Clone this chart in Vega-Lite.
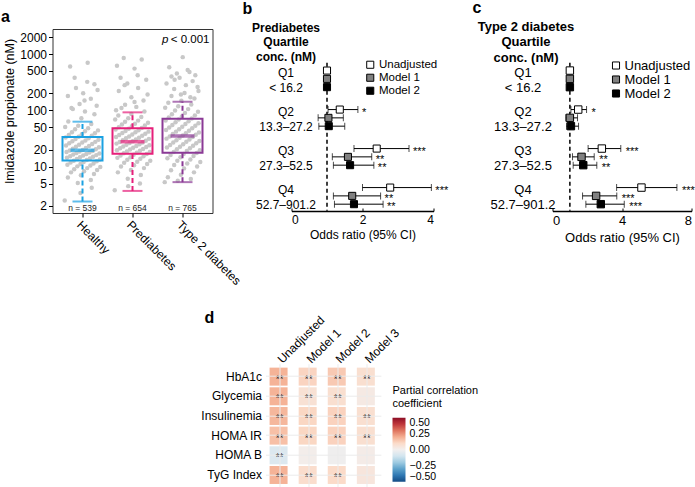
{
"$schema": "https://vega.github.io/schema/vega-lite/v6.json",
"padding": {"left": 0.5, "top": 0, "right": 0, "bottom": 0},
"config": {
  "font": "Liberation Sans",
  "view": {"stroke": null},
  "axis": {"labelColor": "#000", "titleColor": "#000", "tickColor": "#000", "domainColor": "#000", "grid": false, "labelFontSize": 12, "titleFontSize": 12, "titleFontWeight": "normal"},
  "title": {"fontSize": 16, "fontWeight": "bold", "anchor": "start", "frame": "group", "color": "#000"},
  "legend": {"labelColor": "#000", "titleColor": "#000"}
},
"datasets": {
  "pts": [
    {"g":"H","v":2.5,"i":0},{"g":"H","v":5.1,"i":29},{"g":"H","v":5.8,"i":58},{"g":"H","v":6.4,"i":7},{"g":"H","v":7,"i":36},{"g":"H","v":7.4,"i":65},{"g":"H","v":7.9,"i":14},{"g":"H","v":8.3,"i":43},{"g":"H","v":8.7,"i":72},{"g":"H","v":9,"i":21},
    {"g":"H","v":9.4,"i":50},{"g":"H","v":9.8,"i":79},{"g":"H","v":10.1,"i":28},{"g":"H","v":10.5,"i":57},{"g":"H","v":10.8,"i":6},{"g":"H","v":11.1,"i":35},{"g":"H","v":11.4,"i":64},{"g":"H","v":11.8,"i":13},{"g":"H","v":12.1,"i":42},{"g":"H","v":12.4,"i":71},
    {"g":"H","v":12.7,"i":20},{"g":"H","v":13.1,"i":49},{"g":"H","v":13.4,"i":78},{"g":"H","v":13.7,"i":27},{"g":"H","v":14,"i":56},{"g":"H","v":14.4,"i":5},{"g":"H","v":14.7,"i":34},{"g":"H","v":15,"i":63},{"g":"H","v":15.3,"i":12},{"g":"H","v":15.7,"i":41},
    {"g":"H","v":16,"i":70},{"g":"H","v":16.4,"i":19},{"g":"H","v":16.7,"i":48},{"g":"H","v":17.1,"i":77},{"g":"H","v":17.4,"i":26},{"g":"H","v":17.8,"i":55},{"g":"H","v":18.2,"i":4},{"g":"H","v":18.5,"i":33},{"g":"H","v":18.9,"i":62},{"g":"H","v":19.3,"i":11},
    {"g":"H","v":19.8,"i":40},{"g":"H","v":20.3,"i":69},{"g":"H","v":20.8,"i":18},{"g":"H","v":21.4,"i":47},{"g":"H","v":22,"i":76},{"g":"H","v":22.6,"i":25},{"g":"H","v":23.2,"i":54},{"g":"H","v":23.8,"i":3},{"g":"H","v":24.5,"i":32},{"g":"H","v":25.2,"i":61},
    {"g":"H","v":25.9,"i":10},{"g":"H","v":26.7,"i":39},{"g":"H","v":27.5,"i":68},{"g":"H","v":28.3,"i":17},{"g":"H","v":29.1,"i":46},{"g":"H","v":30,"i":75},{"g":"H","v":30.9,"i":24},{"g":"H","v":31.9,"i":53},{"g":"H","v":33,"i":2},{"g":"H","v":34,"i":31},
    {"g":"H","v":35.2,"i":60},{"g":"H","v":36.4,"i":9},{"g":"H","v":37.7,"i":38},{"g":"H","v":39.1,"i":67},{"g":"H","v":40.7,"i":16},{"g":"H","v":42.3,"i":45},{"g":"H","v":44,"i":74},{"g":"H","v":46,"i":23},{"g":"H","v":48.2,"i":52},{"g":"H","v":50.6,"i":1},
    {"g":"H","v":53.3,"i":30},{"g":"H","v":57,"i":59},{"g":"H","v":63,"i":8},{"g":"H","v":72,"i":37},{"g":"H","v":85,"i":66},{"g":"H","v":110,"i":15},{"g":"H","v":150,"i":44},{"g":"H","v":230,"i":73},{"g":"H","v":380,"i":22},{"g":"H","v":700,"i":51},
    {"g":"H","v":600,"i":12},{"g":"H","v":320,"i":50},{"g":"H","v":290,"i":66},{"g":"H","v":250,"i":25},{"g":"H","v":200,"i":41},{"g":"H","v":180,"i":7},{"g":"H","v":160,"i":58},{"g":"H","v":130,"i":33},{"g":"H","v":120,"i":71},{"g":"H","v":105,"i":18},{"g":"H","v":95,"i":45},{"g":"H","v":4.2,"i":60},{"g":"H","v":3.4,"i":35},
    {"g":"P","v":3.8,"i":0},{"g":"P","v":6.1,"i":29},{"g":"P","v":7.1,"i":58},{"g":"P","v":7.9,"i":7},{"g":"P","v":8.7,"i":36},{"g":"P","v":9.4,"i":65},{"g":"P","v":10,"i":14},{"g":"P","v":10.6,"i":43},{"g":"P","v":11.1,"i":72},{"g":"P","v":11.7,"i":21},
    {"g":"P","v":12.2,"i":50},{"g":"P","v":12.7,"i":79},{"g":"P","v":13.2,"i":28},{"g":"P","v":13.8,"i":57},{"g":"P","v":14.3,"i":6},{"g":"P","v":14.7,"i":35},{"g":"P","v":15.2,"i":64},{"g":"P","v":15.7,"i":13},{"g":"P","v":16.2,"i":42},{"g":"P","v":16.7,"i":71},
    {"g":"P","v":17.2,"i":20},{"g":"P","v":17.6,"i":49},{"g":"P","v":18.1,"i":78},{"g":"P","v":18.6,"i":27},{"g":"P","v":19.1,"i":56},{"g":"P","v":19.6,"i":5},{"g":"P","v":20.1,"i":34},{"g":"P","v":20.6,"i":63},{"g":"P","v":21.2,"i":12},{"g":"P","v":21.7,"i":41},
    {"g":"P","v":22.2,"i":70},{"g":"P","v":22.8,"i":19},{"g":"P","v":23.3,"i":48},{"g":"P","v":23.9,"i":77},{"g":"P","v":24.4,"i":26},{"g":"P","v":25,"i":55},{"g":"P","v":25.6,"i":4},{"g":"P","v":26.2,"i":33},{"g":"P","v":26.8,"i":62},{"g":"P","v":27.4,"i":11},
    {"g":"P","v":28.1,"i":40},{"g":"P","v":28.8,"i":69},{"g":"P","v":29.5,"i":18},{"g":"P","v":30.3,"i":47},{"g":"P","v":31.1,"i":76},{"g":"P","v":31.9,"i":25},{"g":"P","v":32.7,"i":54},{"g":"P","v":33.5,"i":3},{"g":"P","v":34.4,"i":32},{"g":"P","v":35.4,"i":61},
    {"g":"P","v":36.3,"i":10},{"g":"P","v":37.3,"i":39},{"g":"P","v":38.4,"i":68},{"g":"P","v":39.5,"i":17},{"g":"P","v":40.6,"i":46},{"g":"P","v":41.8,"i":75},{"g":"P","v":43,"i":24},{"g":"P","v":44.3,"i":53},{"g":"P","v":45.6,"i":2},{"g":"P","v":47.1,"i":31},
    {"g":"P","v":48.6,"i":60},{"g":"P","v":50.2,"i":9},{"g":"P","v":51.9,"i":38},{"g":"P","v":53.8,"i":67},{"g":"P","v":55.8,"i":16},{"g":"P","v":57.9,"i":45},{"g":"P","v":60.2,"i":74},{"g":"P","v":62.8,"i":23},{"g":"P","v":65.6,"i":52},{"g":"P","v":68.7,"i":1},
    {"g":"P","v":72.2,"i":30},{"g":"P","v":76,"i":59},{"g":"P","v":81,"i":8},{"g":"P","v":86,"i":37},{"g":"P","v":95,"i":66},{"g":"P","v":110,"i":15},{"g":"P","v":140,"i":44},{"g":"P","v":190,"i":73},{"g":"P","v":280,"i":22},{"g":"P","v":420,"i":51},
    {"g":"P","v":850,"i":20},{"g":"P","v":800,"i":60},{"g":"P","v":620,"i":5},{"g":"P","v":550,"i":44},{"g":"P","v":380,"i":13},{"g":"P","v":350,"i":70},{"g":"P","v":300,"i":28},{"g":"P","v":250,"i":52},{"g":"P","v":220,"i":9},{"g":"P","v":170,"i":37},{"g":"P","v":150,"i":64},{"g":"P","v":125,"i":23},{"g":"P","v":115,"i":48},{"g":"P","v":100,"i":3},{"g":"P","v":5,"i":56},{"g":"P","v":4.5,"i":30},
    {"g":"T","v":5.3,"i":0},{"g":"T","v":5.6,"i":29},{"g":"T","v":6,"i":58},{"g":"T","v":6.5,"i":7},{"g":"T","v":7.2,"i":36},{"g":"T","v":7.9,"i":65},{"g":"T","v":8.6,"i":14},{"g":"T","v":9.3,"i":43},{"g":"T","v":10,"i":72},{"g":"T","v":10.7,"i":21},
    {"g":"T","v":11.4,"i":50},{"g":"T","v":12.1,"i":79},{"g":"T","v":12.7,"i":28},{"g":"T","v":13.4,"i":57},{"g":"T","v":14.1,"i":6},{"g":"T","v":14.7,"i":35},{"g":"T","v":15.4,"i":64},{"g":"T","v":16.1,"i":13},{"g":"T","v":16.8,"i":42},{"g":"T","v":17.5,"i":71},
    {"g":"T","v":18.2,"i":20},{"g":"T","v":18.9,"i":49},{"g":"T","v":19.6,"i":78},{"g":"T","v":20.3,"i":27},{"g":"T","v":21.1,"i":56},{"g":"T","v":21.8,"i":5},{"g":"T","v":22.6,"i":34},{"g":"T","v":23.4,"i":63},{"g":"T","v":24.2,"i":12},{"g":"T","v":25,"i":41},
    {"g":"T","v":25.9,"i":70},{"g":"T","v":26.7,"i":19},{"g":"T","v":27.6,"i":48},{"g":"T","v":28.5,"i":77},{"g":"T","v":29.4,"i":26},{"g":"T","v":30.4,"i":55},{"g":"T","v":31.4,"i":4},{"g":"T","v":32.4,"i":33},{"g":"T","v":33.4,"i":62},{"g":"T","v":34.4,"i":11},
    {"g":"T","v":35.6,"i":40},{"g":"T","v":36.8,"i":69},{"g":"T","v":37.9,"i":18},{"g":"T","v":39.2,"i":47},{"g":"T","v":40.5,"i":76},{"g":"T","v":41.8,"i":25},{"g":"T","v":43.2,"i":54},{"g":"T","v":44.7,"i":3},{"g":"T","v":46.2,"i":32},{"g":"T","v":47.8,"i":61},
    {"g":"T","v":49.4,"i":10},{"g":"T","v":51.2,"i":39},{"g":"T","v":53,"i":68},{"g":"T","v":54.9,"i":17},{"g":"T","v":56.9,"i":46},{"g":"T","v":59,"i":75},{"g":"T","v":61.3,"i":24},{"g":"T","v":63.6,"i":53},{"g":"T","v":66.1,"i":2},{"g":"T","v":68.7,"i":31},
    {"g":"T","v":71.6,"i":60},{"g":"T","v":74.6,"i":9},{"g":"T","v":77.8,"i":38},{"g":"T","v":81.3,"i":67},{"g":"T","v":85.3,"i":16},{"g":"T","v":89.4,"i":45},{"g":"T","v":93.9,"i":74},{"g":"T","v":99,"i":23},{"g":"T","v":105,"i":52},{"g":"T","v":111,"i":1},
    {"g":"T","v":118,"i":30},{"g":"T","v":127,"i":59},{"g":"T","v":136,"i":8},{"g":"T","v":148,"i":37},{"g":"T","v":162,"i":66},{"g":"T","v":179,"i":15},{"g":"T","v":203,"i":44},{"g":"T","v":260,"i":73},{"g":"T","v":350,"i":22},{"g":"T","v":520,"i":51},
    {"g":"T","v":880,"i":40},{"g":"T","v":580,"i":10},{"g":"T","v":480,"i":55},{"g":"T","v":450,"i":27},{"g":"T","v":420,"i":68},{"g":"T","v":400,"i":15},{"g":"T","v":380,"i":33},{"g":"T","v":330,"i":62},{"g":"T","v":300,"i":4},{"g":"T","v":280,"i":47},{"g":"T","v":240,"i":21},{"g":"T","v":220,"i":75},{"g":"T","v":190,"i":36},{"g":"T","v":170,"i":57}
  ],
  "box": [
    {"g":"H","lo":2.4,"q1":12.9,"med":19.5,"q3":33.6,"hi":62.8,"nl":"n = 539"},
    {"g":"P","lo":3.7,"q1":16.9,"med":27.7,"q3":47.9,"hi":92,"nl":"n = 654"},
    {"g":"T","lo":5.3,"q1":17.7,"med":35,"q3":71,"hi":142,"nl":"n = 765"}
  ],
  "orb": [
    {"q":"Q1|< 16.2","m":"Unadjusted","or":1,"lo":1,"hi":1,"s":""},
    {"q":"Q1|< 16.2","m":"Model 1","or":1,"lo":1,"hi":1,"s":""},
    {"q":"Q1|< 16.2","m":"Model 2","or":1,"lo":1,"hi":1,"s":""},
    {"q":"Q2|13.3–27.2","m":"Unadjusted","or":1.36,"lo":1.03,"hi":1.87,"s":"*"},
    {"q":"Q2|13.3–27.2","m":"Model 1","or":1.04,"lo":0.75,"hi":1.46,"s":""},
    {"q":"Q2|13.3–27.2","m":"Model 2","or":1.05,"lo":0.77,"hi":1.5,"s":""},
    {"q":"Q3|27.3–52.5","m":"Unadjusted","or":2.4,"lo":1.76,"hi":3.31,"s":"***"},
    {"q":"Q3|27.3–52.5","m":"Model 1","or":1.59,"lo":1.15,"hi":2.26,"s":"**"},
    {"q":"Q3|27.3–52.5","m":"Model 2","or":1.65,"lo":1.18,"hi":2.32,"s":"**"},
    {"q":"Q4|52.7–901.2","m":"Unadjusted","or":2.78,"lo":2.0,"hi":3.94,"s":"***"},
    {"q":"Q4|52.7–901.2","m":"Model 1","or":1.71,"lo":1.18,"hi":2.51,"s":"**"},
    {"q":"Q4|52.7–901.2","m":"Model 2","or":1.76,"lo":1.21,"hi":2.58,"s":"**"}
  ],
  "orc": [
    {"q":"Q1|< 16.2","m":"Unadjusted","or":1,"lo":1,"hi":1,"s":""},
    {"q":"Q1|< 16.2","m":"Model 1","or":1,"lo":1,"hi":1,"s":""},
    {"q":"Q1|< 16.2","m":"Model 2","or":1,"lo":1,"hi":1,"s":""},
    {"q":"Q2|13.3–27.2","m":"Unadjusted","or":1.48,"lo":1.06,"hi":1.96,"s":"*"},
    {"q":"Q2|13.3–27.2","m":"Model 1","or":1.0,"lo":0.77,"hi":1.44,"s":""},
    {"q":"Q2|13.3–27.2","m":"Model 2","or":1.06,"lo":0.81,"hi":1.5,"s":""},
    {"q":"Q3|27.3–52.5","m":"Unadjusted","or":2.84,"lo":2.05,"hi":3.93,"s":"***"},
    {"q":"Q3|27.3–52.5","m":"Model 1","or":1.67,"lo":1.15,"hi":2.4,"s":"**"},
    {"q":"Q3|27.3–52.5","m":"Model 2","or":1.77,"lo":1.19,"hi":2.55,"s":"**"},
    {"q":"Q4|52.7–901.2","m":"Unadjusted","or":5.12,"lo":3.69,"hi":7.16,"s":"***"},
    {"q":"Q4|52.7–901.2","m":"Model 1","or":2.51,"lo":1.73,"hi":3.7,"s":"***"},
    {"q":"Q4|52.7–901.2","m":"Model 2","or":2.78,"lo":1.92,"hi":4.13,"s":"***"}
  ],
  "hm": [
    {"v":"HbA1c","m":"Unadjusted","r":0.19,"s":"**"},{"v":"HbA1c","m":"Model 1","r":0.115,"s":"**"},{"v":"HbA1c","m":"Model 2","r":0.14,"s":"**"},{"v":"HbA1c","m":"Model 3","r":0.08,"s":"**"},
    {"v":"Glycemia","m":"Unadjusted","r":0.19,"s":"**"},{"v":"Glycemia","m":"Model 1","r":0.07,"s":"**"},{"v":"Glycemia","m":"Model 2","r":0.08,"s":"**"},{"v":"Glycemia","m":"Model 3","r":0.03,"s":""},
    {"v":"Insulinemia","m":"Unadjusted","r":0.18,"s":"**"},{"v":"Insulinemia","m":"Model 1","r":0.11,"s":"**"},{"v":"Insulinemia","m":"Model 2","r":0.12,"s":"**"},{"v":"Insulinemia","m":"Model 3","r":0.08,"s":"**"},
    {"v":"HOMA IR","m":"Unadjusted","r":0.16,"s":"**"},{"v":"HOMA IR","m":"Model 1","r":0.11,"s":"**"},{"v":"HOMA IR","m":"Model 2","r":0.12,"s":"**"},{"v":"HOMA IR","m":"Model 3","r":0.08,"s":"**"},
    {"v":"HOMA B","m":"Unadjusted","r":-0.07,"s":"**"},{"v":"HOMA B","m":"Model 1","r":0.01,"s":""},{"v":"HOMA B","m":"Model 2","r":-0.01,"s":""},{"v":"HOMA B","m":"Model 3","r":0.02,"s":""},
    {"v":"TyG Index","m":"Unadjusted","r":0.19,"s":"**"},{"v":"TyG Index","m":"Model 1","r":0.09,"s":"**"},{"v":"TyG Index","m":"Model 2","r":0.1,"s":"**"},{"v":"TyG Index","m":"Model 3","r":0.05,"s":""}
  ]
},
"bounds": "flush",
"spacing": 334.7,
"resolve": {"scale": {"fill": "independent", "color": "independent", "stroke": "independent"}, "legend": {"fill": "independent", "color": "independent"}},
"vconcat": [
 {
  "bounds": "flush",
  "spacing": 0,
  "resolve": {"scale": {"fill": "independent", "color": "independent", "stroke": "independent"}, "legend": {"fill": "independent", "color": "independent"}},
  "hconcat": [
  {
    "width": 160, "height": 184,
    "view": {"stroke": "#333", "strokeWidth": 1},
    "title": {"text": "a", "dx": -51.5},
    "resolve": {"scale": {"x": "independent"}, "axis": {"x": "independent"}},
    "layer": [
      {
        "data": {"name": "pts"},
        "mark": {"type": "circle", "size": 20, "color": "#c8c8c8", "opacity": 1},
        "encoding": {
          "x": {"field": "g", "type": "nominal", "scale": {"domain": ["H","P","T"], "paddingInner": 0, "paddingOuter": 0.1}, "axis": null},
          "xOffset": {"field": "i", "type": "nominal", "scale": {"range": [7, 43]}},
          "y": {"field": "v", "type": "quantitative", "scale": {"type": "log", "domain": [1.5, 2780], "nice": false},
                "axis": {"title": "Imidazole propionate (nM)", "titleFontSize": 12.5, "titlePadding": 3, "titleY": 82, "domain": false, "values": [2,5,10,20,50,100,200,500,1000,2000], "format": "d", "tickSize": 4, "labelPadding": 2, "labelFontSize": 12}}
        }
      },
      {
        "layer": [
          {
            "data": {"name": "box"},
            "mark": {"type": "rule", "strokeDash": [5, 3], "strokeWidth": 2},
            "encoding": {
              "x": {"field": "g", "type": "nominal", "scale": {"domain": ["H","P","T"], "paddingInner": 0, "paddingOuter": 0.1},
                    "axis": {"title": null, "domain": false, "labelAngle": 45, "labelAlign": "left", "labelBaseline": "top", "labelPadding": 2, "tickSize": 4, "labelFontSize": 12,
                             "labelExpr": "datum.label == 'H' ? 'Healthy' : datum.label == 'P' ? 'Prediabetes' : 'Type 2 diabetes'"}},
              "y": {"field": "q3", "type": "quantitative"},
              "y2": {"field": "hi"},
              "stroke": {"field": "g", "type": "nominal", "scale": {"domain": ["H","P","T"], "range": ["#1BA1E2","#E6207A","#8B3A96"]}, "legend": null}
            }
          },
          {
            "data": {"name": "box"},
            "mark": {"type": "rule", "strokeDash": [5, 3], "strokeWidth": 2},
            "encoding": {
              "x": {"field": "g", "type": "nominal"},
              "y": {"field": "lo", "type": "quantitative"},
              "y2": {"field": "q1"},
              "stroke": {"field": "g", "type": "nominal", "legend": null}
            }
          },
          {
            "data": {"name": "box"},
            "mark": {"type": "tick", "size": 20, "thickness": 2},
            "encoding": {
              "x": {"field": "g", "type": "nominal"},
              "y": {"field": "hi", "type": "quantitative"},
              "color": {"field": "g", "type": "nominal", "scale": {"domain": ["H","P","T"], "range": ["#1BA1E2","#E6207A","#8B3A96"]}, "legend": null}
            }
          },
          {
            "data": {"name": "box"},
            "mark": {"type": "tick", "size": 20, "thickness": 2},
            "encoding": {
              "x": {"field": "g", "type": "nominal"},
              "y": {"field": "lo", "type": "quantitative"},
              "color": {"field": "g", "type": "nominal", "legend": null}
            }
          },
          {
            "data": {"name": "box"},
            "mark": {"type": "bar", "width": 40, "fill": "transparent", "strokeWidth": 2},
            "encoding": {
              "x": {"field": "g", "type": "nominal"},
              "y": {"field": "q1", "type": "quantitative"},
              "y2": {"field": "q3"},
              "stroke": {"field": "g", "type": "nominal", "legend": null}
            }
          },
          {
            "data": {"name": "box"},
            "mark": {"type": "tick", "size": 24, "thickness": 3.5},
            "encoding": {
              "x": {"field": "g", "type": "nominal"},
              "y": {"field": "med", "type": "quantitative"},
              "color": {"field": "g", "type": "nominal", "legend": null}
            }
          },
          {
            "data": {"name": "box"},
            "mark": {"type": "text", "fontSize": 8.5, "color": "#222", "baseline": "middle"},
            "encoding": {
              "x": {"field": "g", "type": "nominal"},
              "y": {"datum": 1.84},
              "text": {"field": "nl"}
            }
          },
          {
            "data": {"values": [{"t": "< 0.001"}]},
            "mark": {"type": "text", "fontSize": 11.5, "align": "right", "baseline": "middle", "dx": 27},
            "encoding": {
              "x": {"datum": "T"},
              "y": {"datum": 1770},
              "text": {"field": "t"}
            }
          },
          {
            "data": {"values": [{"t": "p"}]},
            "mark": {"type": "text", "fontSize": 11.5, "fontStyle": "italic", "align": "right", "baseline": "middle", "dx": -14},
            "encoding": {
              "x": {"datum": "T"},
              "y": {"datum": 1770},
              "text": {"field": "t"}
            }
          }
        ]
      }
    ]
  },
  {"width": 79, "height": 1, "data": {"values": [{}]}, "mark": {"type": "point", "opacity": 0}},
  {
    "width": 142, "height": 187,
    "title": {"text": "b", "dx": -49},
    "layer": [
      {
        "data": {"name": "orb"},
        "mark": {"type": "rule", "strokeWidth": 1, "color": "#000"},
        "encoding": {
          "x": {"field": "lo", "type": "quantitative", "scale": {"domain": [0, 4], "nice": false},
                "axis": {"title": "Odds ratio (95% CI)", "values": [0,0.5,1,1.5,2,2.5,3,3.5,4], "labelExpr": "datum.value % 1 == 0 ? format(datum.value, 'd') : ''", "labelOverlap": false, "tickSize": -3, "offset": -5, "domainWidth": 1.5, "labelPadding": 6, "labelFontSize": 12, "titleFontSize": 12, "titlePadding": 4}},
          "x2": {"field": "hi"},
          "y": {"field": "q", "type": "nominal", "scale": {"paddingInner": 0, "paddingOuter": 0.397, "align": 0.98},
                "axis": {"title": ["Prediabetes", "Quartile", "conc. (nM)"], "titleAngle": 0, "titleAlign": "center", "titleBaseline": "top", "titleX": -6, "titleY": -7, "titleFontWeight": "bold", "titleFontSize": 12, "titleLineHeight": 14.5,
                         "labelExpr": "split(datum.label, '|')", "labelAlign": "center", "labelBaseline": "middle", "labelPadding": 6, "labelOffset": -6, "labelLineHeight": 15, "labelFontSize": 12, "ticks": false, "domain": false}},
          "yOffset": {"field": "m", "type": "nominal", "sort": ["Unadjusted", "Model 1", "Model 2"], "scale": {"paddingInner": 0, "paddingOuter": 0.85}}
        }
      },
      {
        "data": {"values": [{}]},
        "mark": {"type": "rule", "strokeDash": [4, 3], "strokeWidth": 1.5, "color": "#000"},
        "encoding": {
          "x": {"datum": 1},
          "y": {"datum": "Q1|< 16.2", "bandPosition": 0.09},
          "y2": {"datum": "Q4|52.7–901.2", "bandPosition": 0.88}
        }
      },
      {
        "data": {"name": "orb"},
        "mark": {"type": "tick", "size": 7, "thickness": 1, "color": "#000"},
        "encoding": {
          "x": {"field": "lo", "type": "quantitative"},
          "y": {"field": "q", "type": "nominal"},
          "yOffset": {"field": "m", "type": "nominal", "sort": ["Unadjusted", "Model 1", "Model 2"]}
        }
      },
      {
        "data": {"name": "orb"},
        "mark": {"type": "tick", "size": 7, "thickness": 1, "color": "#000"},
        "encoding": {
          "x": {"field": "hi", "type": "quantitative"},
          "y": {"field": "q", "type": "nominal"},
          "yOffset": {"field": "m", "type": "nominal", "sort": ["Unadjusted", "Model 1", "Model 2"]}
        }
      },
      {
        "data": {"name": "orb"},
        "mark": {"type": "point", "shape": "square", "filled": true, "size": 50, "stroke": "#000", "strokeWidth": 1, "opacity": 1},
        "encoding": {
          "x": {"field": "or", "type": "quantitative"},
          "y": {"field": "q", "type": "nominal"},
          "yOffset": {"field": "m", "type": "nominal", "sort": ["Unadjusted", "Model 1", "Model 2"]},
          "fill": {"field": "m", "type": "nominal", "scale": {"domain": ["Unadjusted", "Model 1", "Model 2"], "range": ["#ffffff", "#808080", "#000000"]},
                   "legend": {"orient": "none", "legendX": 73, "legendY": 30, "title": null, "symbolType": "square", "symbolSize": 50, "symbolStrokeColor": "#000", "symbolStrokeWidth": 1, "labelFontSize": 11.5, "rowPadding": 0, "labelOffset": 3, "padding": 0}}
        }
      },
      {
        "data": {"name": "orb"},
        "mark": {"type": "text", "fontSize": 11, "align": "left", "baseline": "middle", "dx": 4, "dy": 3},
        "encoding": {
          "x": {"field": "hi", "type": "quantitative"},
          "y": {"field": "q", "type": "nominal"},
          "yOffset": {"field": "m", "type": "nominal", "sort": ["Unadjusted", "Model 1", "Model 2"]},
          "text": {"field": "s"}
        }
      }
    ]
  },
  {"width": 118.7, "height": 1, "data": {"values": [{}]}, "mark": {"type": "point", "opacity": 0}},
  {
    "width": 139, "height": 187,
    "title": {"text": "c", "dx": -80},
    "layer": [
      {
        "data": {"name": "orc"},
        "mark": {"type": "rule", "strokeWidth": 1, "color": "#000"},
        "encoding": {
          "x": {"field": "lo", "type": "quantitative", "scale": {"domain": [0, 8], "nice": false},
                "axis": {"title": "Odds ratio (95% CI)", "values": [0,1,2,3,4,5,6,7,8], "labelExpr": "datum.value % 2 == 0 ? format(datum.value, 'd') : ''", "labelOverlap": false, "tickSize": -3, "offset": -5, "domainWidth": 1.5, "labelPadding": 6, "labelFontSize": 13, "titleFontSize": 13, "titlePadding": 4}},
          "x2": {"field": "hi"},
          "y": {"field": "q", "type": "nominal", "scale": {"paddingInner": 0, "paddingOuter": 0.397, "align": 0.98},
                "axis": {"title": ["Type 2 diabetes", "Quartile", "conc. (nM)"], "titleAngle": 0, "titleAlign": "center", "titleBaseline": "top", "titleX": -27, "titleY": -9, "titleFontWeight": "bold", "titleFontSize": 13, "titleLineHeight": 15.5,
                         "labelExpr": "split(datum.label, '|')", "labelAlign": "center", "labelBaseline": "middle", "labelPadding": 30, "labelOffset": -6, "labelLineHeight": 15, "labelFontSize": 13, "ticks": false, "domain": false}},
          "yOffset": {"field": "m", "type": "nominal", "sort": ["Unadjusted", "Model 1", "Model 2"], "scale": {"paddingInner": 0, "paddingOuter": 0.85}}
        }
      },
      {
        "data": {"values": [{}]},
        "mark": {"type": "rule", "strokeDash": [4, 3], "strokeWidth": 1.5, "color": "#000"},
        "encoding": {
          "x": {"datum": 1},
          "y": {"datum": "Q1|< 16.2", "bandPosition": 0.09},
          "y2": {"datum": "Q4|52.7–901.2", "bandPosition": 0.88}
        }
      },
      {
        "data": {"name": "orc"},
        "mark": {"type": "tick", "size": 7, "thickness": 1, "color": "#000"},
        "encoding": {
          "x": {"field": "lo", "type": "quantitative"},
          "y": {"field": "q", "type": "nominal"},
          "yOffset": {"field": "m", "type": "nominal", "sort": ["Unadjusted", "Model 1", "Model 2"]}
        }
      },
      {
        "data": {"name": "orc"},
        "mark": {"type": "tick", "size": 7, "thickness": 1, "color": "#000"},
        "encoding": {
          "x": {"field": "hi", "type": "quantitative"},
          "y": {"field": "q", "type": "nominal"},
          "yOffset": {"field": "m", "type": "nominal", "sort": ["Unadjusted", "Model 1", "Model 2"]}
        }
      },
      {
        "data": {"name": "orc"},
        "mark": {"type": "point", "shape": "square", "filled": true, "size": 55, "stroke": "#000", "strokeWidth": 1, "opacity": 1},
        "encoding": {
          "x": {"field": "or", "type": "quantitative"},
          "y": {"field": "q", "type": "nominal"},
          "yOffset": {"field": "m", "type": "nominal", "sort": ["Unadjusted", "Model 1", "Model 2"]},
          "fill": {"field": "m", "type": "nominal", "scale": {"domain": ["Unadjusted", "Model 1", "Model 2"], "range": ["#ffffff", "#808080", "#000000"]},
                   "legend": {"orient": "none", "legendX": 57, "legendY": 30, "title": null, "symbolType": "square", "symbolSize": 50, "symbolStrokeColor": "#000", "symbolStrokeWidth": 1, "labelFontSize": 13, "rowPadding": -1.5, "labelOffset": 2, "padding": 0}}
        }
      },
      {
        "data": {"name": "orc"},
        "mark": {"type": "text", "fontSize": 11, "align": "left", "baseline": "middle", "dx": 5, "dy": 3},
        "encoding": {
          "x": {"field": "hi", "type": "quantitative"},
          "y": {"field": "q", "type": "nominal"},
          "yOffset": {"field": "m", "type": "nominal", "sort": ["Unadjusted", "Model 1", "Model 2"]},
          "text": {"field": "s"}
        }
      }
    ]
  }
  ]
 },
 {
  "bounds": "flush",
  "spacing": 0,
  "resolve": {"scale": {"color": "independent"}, "legend": {"color": "independent"}},
  "hconcat": [
  {"width": 212.2, "height": 1, "data": {"values": [{}]}, "mark": {"type": "point", "opacity": 0}},
  {
    "width": 115.4, "height": 124.2,
    "title": {"text": "d", "dx": -61, "dy": 16},
    "data": {"name": "hm"},
    "encoding": {
      "x": {"field": "m", "type": "nominal", "sort": ["Unadjusted", "Model 1", "Model 2", "Model 3"], "scale": {"paddingInner": 0.313, "paddingOuter": 0.14},
            "axis": {"orient": "top", "title": null, "labelAngle": -45, "labelAlign": "left", "labelBaseline": "middle", "ticks": false, "domain": false, "grid": true, "gridColor": "#ebebeb", "labelPadding": 3, "labelFontSize": 12}},
      "y": {"field": "v", "type": "nominal", "sort": ["HbA1c", "Glycemia", "Insulinemia", "HOMA IR", "HOMA B", "TyG Index"], "scale": {"paddingInner": 0.085, "paddingOuter": 0.2},
            "axis": {"title": null, "ticks": false, "domain": false, "grid": true, "gridColor": "#ebebeb", "labelPadding": 4, "labelFontSize": 12}}
    },
    "layer": [
      {
        "mark": {"type": "rect"},
        "encoding": {
          "color": {"field": "r", "type": "quantitative", "scale": {"scheme": "redblue", "reverse": true, "domain": [-0.5, 0.5]},
                    "legend": {"orient": "none", "legendX": 127, "legendY": 21, "title": ["Partial correlation", "coefficient"], "titleFontSize": 11, "titleFontWeight": "normal", "titleLineHeight": 13, "titlePadding": 9,
                               "gradientLength": 64, "gradientThickness": 13, "direction": "vertical", "values": [0.5, 0.25, 0, -0.25, -0.5], "labelOverlap": false,
                               "labelExpr": "replace(format(datum.value, '.2f'), '-', '−')", "labelFontSize": 10.5, "labelOffset": 4, "padding": 0}}
        }
      },
      {
        "mark": {"type": "text", "fontSize": 10, "dy": 3, "color": "#222"},
        "encoding": {"text": {"field": "s"}}
      }
    ]
  }
  ]
 }
]
}
